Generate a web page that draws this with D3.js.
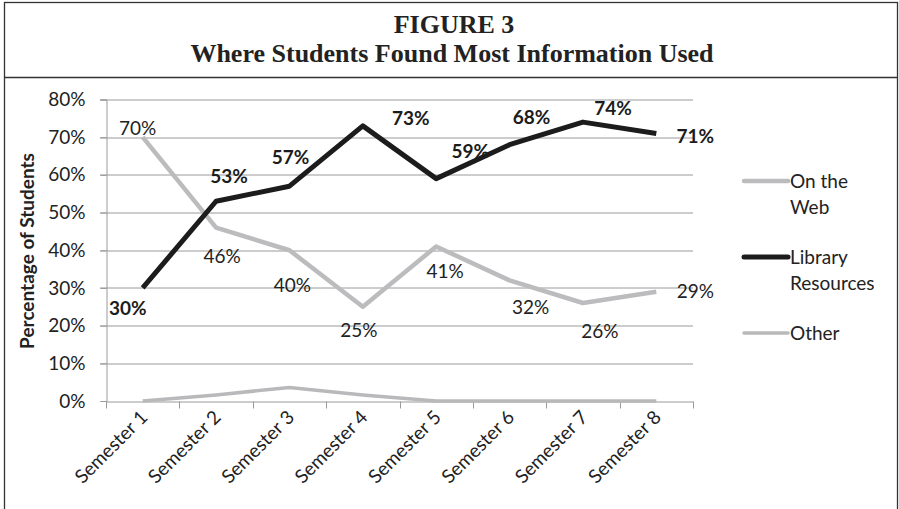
<!DOCTYPE html>
<html>
<head>
<meta charset="utf-8">
<script src="https://cdn.jsdelivr.net/npm/d3@7"></script>
<style>
  body { margin: 0; background: #fff; }
  svg { display: block; }
</style>
</head>
<body>
<div id="chart"></div>
<script>
// Data
var semesters = ["Semester 1", "Semester 2", "Semester 3", "Semester 4",
                 "Semester 5", "Semester 6", "Semester 7", "Semester 8"];
var webValues = [70, 46, 40, 25, 41, 32, 26, 29];
var libraryValues = [30, 53, 57, 73, 59, 68, 74, 71];
var otherValues = [0, 1.6, 3.6, 1.6, 0, 0, 0, 0];
var yTicks = [0, 10, 20, 30, 40, 50, 60, 70, 80];
var seriesNames = ["On the Web", "Library Resources", "Other"];

// label offsets (dx, dy) from each point, like the hand-placed labels
var webLabelOffsets = [[-5, -10], [6, 28], [3, 34], [-4, 23], [9, 24], [21, 26], [17, 27], [39, -1]];
var libLabelOffsets = [[-15, 20], [13, -26], [1, -30], [48, -8], [34, -28], [22, -28], [30, -15], [39, 2]];

var svgWidth = 899;
var svgHeight = 509;
var margin = { top: 99.5, left: 106, right: 206 };
var chartWidth = svgWidth - margin.left - margin.right;
var chartHeight = 401 - margin.top;

var svg = d3.select("#chart")
    .append("svg")
    .attr("width", svgWidth)
    .attr("height", svgHeight);

// frame and title box
svg.append("rect")
    .attr("x", 4.5).attr("y", 2.5)
    .attr("width", 893).attr("height", 520)
    .attr("fill", "none").attr("stroke", "#333").attr("stroke-width", 1.3);
svg.append("line")
    .attr("x1", 4.5).attr("x2", 897.5).attr("y1", 77.5).attr("y2", 77.5)
    .attr("stroke", "#333").attr("stroke-width", 1.3);

svg.append("text")
    .attr("x", 454).attr("y", 33)
    .attr("text-anchor", "middle")
    .attr("font-family", "Liberation Serif, serif")
    .attr("font-weight", "bold")
    .attr("font-size", "26px")
    .attr("fill", "#222")
    .text("FIGURE 3");
svg.append("text")
    .attr("x", 452).attr("y", 62)
    .attr("text-anchor", "middle")
    .attr("font-family", "Liberation Serif, serif")
    .attr("font-weight", "bold")
    .attr("font-size", "26px")
    .attr("fill", "#222")
    .text("Where Students Found Most Information Used");

var chartGroup = svg.append("g")
    .attr("transform", `translate(${margin.left}, ${margin.top})`);

var xScale = d3.scalePoint()
    .domain(semesters)
    .range([0, chartWidth])
    .padding(0.5);

var xBand = d3.scaleBand()
    .domain(semesters)
    .range([0, chartWidth]);

var yScale = d3.scaleLinear()
    .domain([0, 80])
    .range([chartHeight, 0]);

var font = "Lato, 'Open Sans', sans-serif";
var fontSize = "19px";

// gridlines
chartGroup.append("g")
    .selectAll("line")
    .data(yTicks.filter(d => d > 0))
    .enter()
    .append("line")
    .attr("x1", -6).attr("x2", chartWidth)
    .attr("y1", d => Math.round(yScale(d)) + 0.5)
    .attr("y2", d => Math.round(yScale(d)) + 0.5)
    .attr("stroke", "#9a9a9a").attr("stroke-width", 1);

// left axis
var leftAxis = d3.axisLeft(yScale)
    .tickValues(yTicks)
    .tickFormat(d => d + "%")
    .tickSize(6)
    .tickPadding(15);
var yAxisG = chartGroup.append("g")
    .attr("transform", "translate(0.5, 0)")
    .call(leftAxis);
yAxisG.select(".domain").attr("stroke", "#9a9a9a");
yAxisG.selectAll(".tick line").attr("stroke", "#9a9a9a");
yAxisG.selectAll("text")
    .attr("font-family", font)
    .attr("font-size", fontSize)
    .attr("fill", "#222");

// bottom axis, ticks sit between categories
var bottomAxis = d3.axisBottom(xBand)
    .tickSize(0)
    .tickFormat("");
var xAxisG = chartGroup.append("g")
    .attr("transform", `translate(0, ${chartHeight + 0.5})`)
    .call(bottomAxis);
xAxisG.select(".domain").attr("stroke", "#9a9a9a");
xAxisG.selectAll(".tick").remove();
xAxisG.selectAll("line.sep")
    .data(d3.range(semesters.length + 1))
    .enter()
    .append("line")
    .attr("x1", i => Math.round(i * xBand.step()) + 0.5)
    .attr("x2", i => Math.round(i * xBand.step()) + 0.5)
    .attr("y1", 0).attr("y2", 7)
    .attr("stroke", "#9a9a9a");

xAxisG.selectAll("text.xlab")
    .data(semesters)
    .enter()
    .append("text")
    .attr("class", "xlab")
    .attr("transform", d => `translate(${xScale(d) + 6}, 17) rotate(-45)`)
    .attr("text-anchor", "end")
    .attr("font-family", font)
    .attr("font-size", fontSize)
    .attr("fill", "#222")
    .text(d => d);

// y axis title
chartGroup.append("text")
    .attr("transform", `translate(${34 - margin.left}, ${251 - margin.top}) rotate(-90)`)
    .attr("text-anchor", "middle")
    .attr("font-family", font)
    .attr("font-weight", "bold")
    .attr("font-size", fontSize)
    .attr("fill", "#222")
    .text("Percentage of Students");

// lines
var line = d3.line()
    .x((d, i) => xScale(semesters[i]))
    .y(d => yScale(d));

var series = [
    { values: otherValues, color: "#b9b9bb", width: 3.5 },
    { values: webValues, color: "#bcbcbe", width: 4.5 },
    { values: libraryValues, color: "#1c1c1c", width: 5 }
];

series.forEach(function(s) {
    chartGroup.append("path")
        .datum(s.values)
        .attr("d", line)
        .attr("fill", "none")
        .attr("stroke", s.color)
        .attr("stroke-width", s.width)
        .attr("stroke-linejoin", "round");
});

// data labels
chartGroup.append("g")
    .selectAll("text")
    .data(webValues)
    .enter()
    .append("text")
    .attr("x", (d, i) => xScale(semesters[i]) + webLabelOffsets[i][0])
    .attr("y", (d, i) => yScale(d) + webLabelOffsets[i][1])
    .attr("text-anchor", "middle")
    .attr("dominant-baseline", "central")
    .attr("font-family", font)
    .attr("font-size", fontSize)
    .attr("fill", "#222")
    .text(d => d + "%");

chartGroup.append("g")
    .selectAll("text")
    .data(libraryValues)
    .enter()
    .append("text")
    .attr("x", (d, i) => xScale(semesters[i]) + libLabelOffsets[i][0])
    .attr("y", (d, i) => yScale(d) + libLabelOffsets[i][1])
    .attr("text-anchor", "middle")
    .attr("dominant-baseline", "central")
    .attr("font-family", font)
    .attr("font-weight", "bold")
    .attr("font-size", fontSize)
    .attr("fill", "#1c1c1c")
    .text(d => d + "%");

// legend
var legendY = [181, 257, 333];
var legendLines = [["On the", "Web"], ["Library", "Resources"], ["Other"]];
var legendColors = ["#bcbcbe", "#1c1c1c", "#b9b9bb"];
var legendWidths = [4.5, 5, 3.5];

var legend = svg.append("g");
seriesNames.forEach(function(name, i) {
    legend.append("line")
        .attr("x1", 744).attr("x2", 788)
        .attr("y1", legendY[i]).attr("y2", legendY[i])
        .attr("stroke", legendColors[i])
        .attr("stroke-width", legendWidths[i])
        .attr("stroke-linecap", "round");
    var t = legend.append("text")
        .attr("font-family", font)
        .attr("font-size", fontSize)
        .attr("fill", "#222");
    legendLines[i].forEach(function(part, j) {
        t.append("tspan")
            .attr("x", 790)
            .attr("y", legendY[i] + 6.5 + j * 26.5)
            .text(part);
    });
});
</script>
</body>
</html>
